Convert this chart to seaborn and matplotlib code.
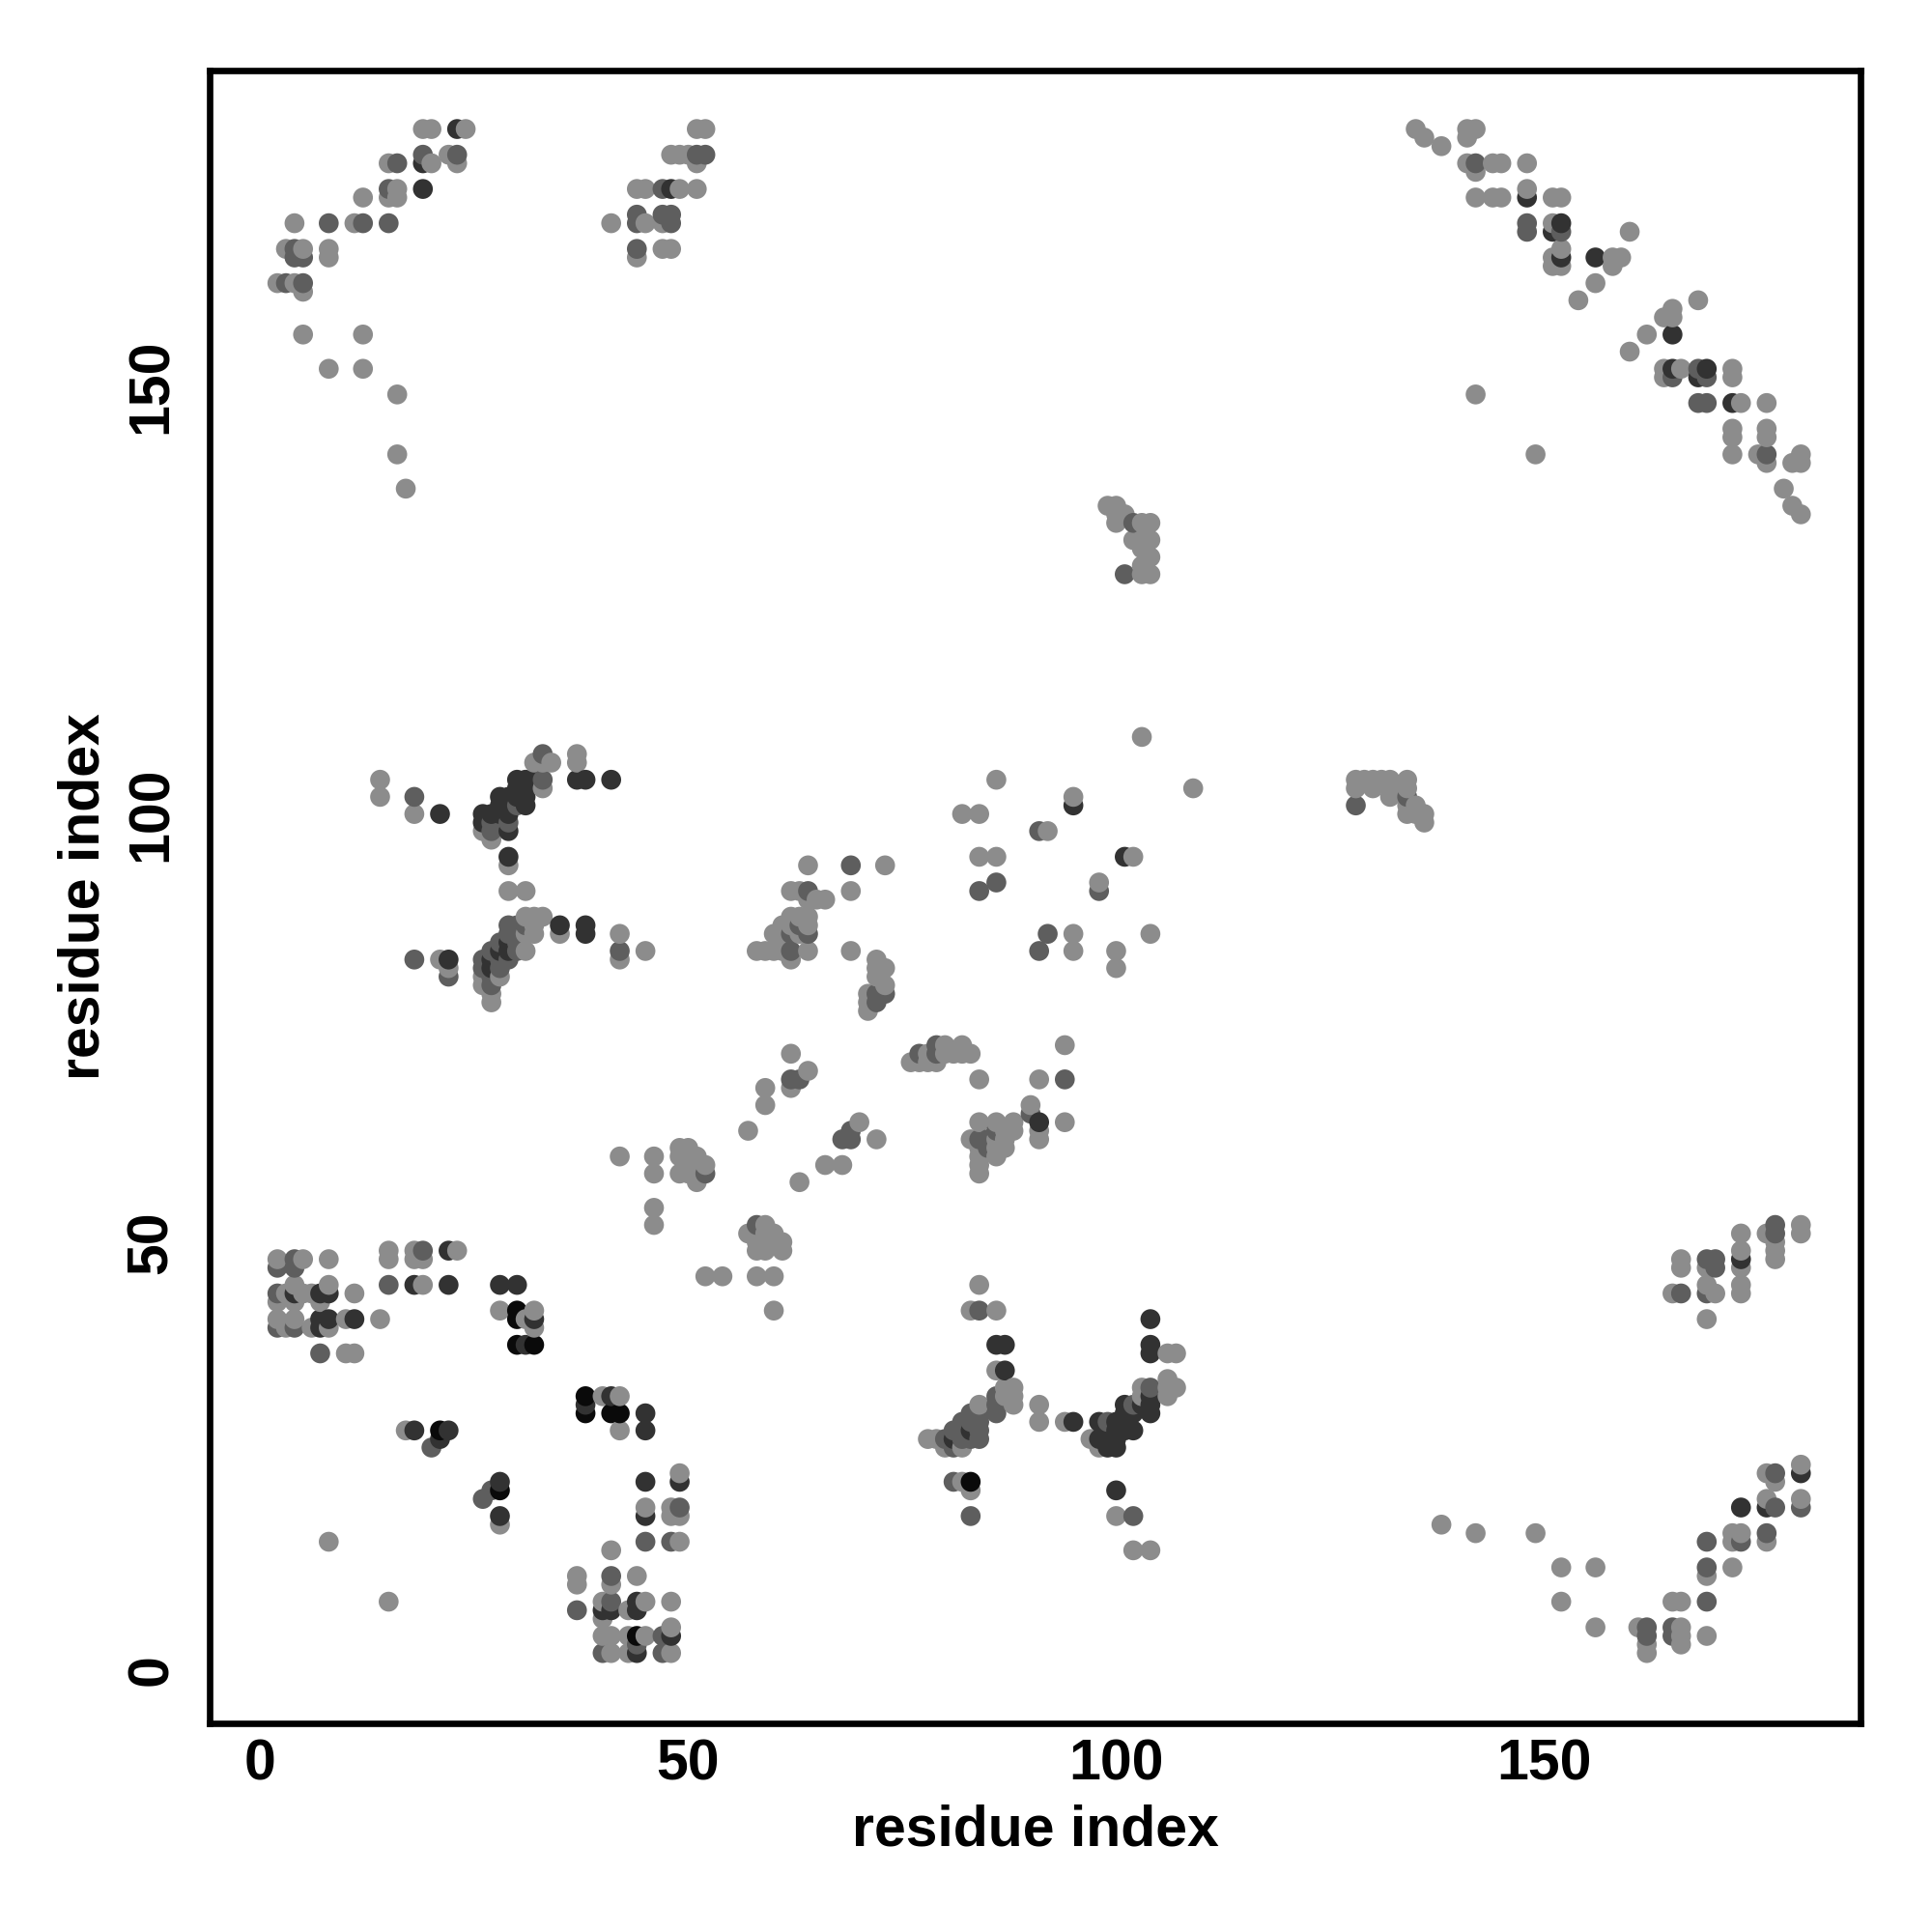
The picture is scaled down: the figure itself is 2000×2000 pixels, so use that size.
import numpy as np
import pandas as pd
import matplotlib
matplotlib.use("Agg")
import matplotlib.pyplot as plt
import seaborn as sns

# contacts: (residue i, residue j, shade level 1 = light grey ... 4 = black)
top_left = [
    (19, 180, 1), (20, 180, 1), (23, 180, 3), (24, 180, 1), (51, 180, 1), (52, 180, 1),
    (19, 177, 2), (19, 176, 3), (20, 176, 1), (15, 176, 1), (16, 176, 2), (22, 177, 1),
    (23, 177, 2), (23, 176, 1), (48, 177, 1), (49, 177, 1), (50, 177, 1), (51, 177, 2),
    (52, 177, 2), (51, 176, 1), (15, 173, 2), (16, 173, 1), (15, 172, 1), (16, 172, 1),
    (12, 172, 1), (19, 173, 3), (44, 173, 1), (45, 173, 1), (47, 173, 2), (48, 173, 3),
    (49, 173, 1), (51, 173, 1), (4, 169, 1), (8, 169, 2), (11, 169, 1), (12, 169, 2),
    (15, 169, 2), (41, 169, 1), (44, 170, 2), (44, 169, 2), (45, 169, 1), (47, 170, 2),
    (48, 170, 2), (47, 169, 1), (48, 169, 2), (3, 166, 1), (4, 166, 2), (5, 166, 1),
    (4, 165, 2), (5, 165, 2), (8, 166, 1), (8, 165, 1), (44, 166, 2), (44, 165, 1),
    (47, 166, 1), (48, 166, 1), (2, 162, 1), (3, 162, 2), (4, 162, 1), (5, 162, 2),
    (5, 161, 1), (5, 156, 1), (12, 156, 1), (8, 152, 1), (12, 152, 1), (16, 149, 1),
    (16, 142, 1), (17, 138, 1),
]

top_right = [
    (135, 180, 1), (136, 179, 1), (138, 178, 1), (141, 180, 1), (142, 180, 1), (141, 179, 1),
    (141, 176, 1), (142, 176, 2), (144, 176, 1), (145, 176, 1), (148, 176, 1), (142, 175, 1),
    (142, 172, 1), (144, 172, 1), (145, 172, 1), (148, 172, 3), (148, 173, 1), (151, 172, 1),
    (152, 172, 1), (148, 169, 2), (148, 168, 2), (151, 169, 1), (152, 169, 3), (151, 168, 3),
    (152, 168, 2), (160, 168, 1), (152, 166, 1), (151, 165, 1), (152, 165, 3), (151, 164, 1),
    (152, 164, 1), (156, 165, 3), (158, 165, 1), (159, 165, 1), (158, 164, 1), (156, 162, 1),
    (154, 160, 1), (168, 160, 1), (165, 159, 1), (164, 158, 1), (165, 158, 1), (162, 156, 1),
    (165, 156, 3), (160, 154, 1), (164, 152, 1), (165, 152, 3), (166, 152, 1), (164, 151, 1),
    (165, 151, 2), (168, 152, 2), (169, 152, 3), (168, 151, 3), (169, 151, 2), (172, 152, 1),
    (172, 151, 1), (168, 148, 2), (169, 148, 2), (172, 148, 3), (173, 148, 1), (176, 148, 1),
    (142, 149, 1), (172, 145, 1), (172, 144, 1), (176, 145, 1), (176, 144, 1), (149, 142, 1),
    (172, 142, 1), (175, 142, 1), (176, 142, 2), (176, 141, 1), (179, 141, 1), (180, 142, 1),
    (180, 141, 1), (178, 138, 1), (179, 136, 1), (180, 135, 1),
]

upper_mid = [
    (99, 136, 1), (100, 136, 1), (100, 135, 1), (101, 135, 1), (100, 134, 1), (102, 134, 2),
    (103, 134, 1), (104, 134, 1), (102, 132, 1), (103, 132, 1), (104, 132, 1), (103, 131, 1),
    (104, 130, 1), (103, 129, 1), (101, 128, 2), (103, 128, 1), (104, 128, 1),
]

left_mid = [
    (14, 104, 1), (14, 102, 1), (18, 102, 2), (18, 100, 1), (21, 100, 3),
    (33, 107, 2), (32, 106, 1), (33, 106, 1), (34, 106, 1), (37, 107, 1), (37, 106, 1),
    (37, 104, 3), (38, 104, 3), (41, 104, 3),
    (30, 104, 3), (31, 104, 3), (32, 104, 3), (33, 104, 2),
    (30, 103, 3), (31, 103, 3), (33, 103, 1),
    (28, 102, 3), (29, 102, 3), (30, 102, 3), (31, 102, 3),
    (28, 101, 3), (30, 101, 2), (31, 101, 3),
    (26, 100, 3), (27, 100, 3), (28, 100, 3), (29, 100, 3),
    (26, 99, 3), (27, 99, 2), (29, 99, 2),
    (26, 98, 1), (27, 98, 2), (29, 98, 3), (27, 97, 1),
    (29, 95, 3), (29, 94, 1), (29, 91, 1), (31, 91, 1),
    (31, 88, 1), (32, 88, 1), (33, 88, 1), (35, 87, 3), (35, 86, 1), (38, 87, 3), (38, 86, 3),
    (29, 87, 2), (30, 87, 2), (31, 87, 2), (32, 87, 1),
    (29, 86, 2), (30, 86, 2), (31, 86, 1), (32, 86, 1),
    (28, 85, 2), (29, 85, 3), (30, 85, 2),
    (27, 84, 2), (28, 84, 3), (29, 84, 3), (30, 84, 2), (31, 84, 1),
    (26, 83, 2), (27, 83, 3), (28, 83, 2), (29, 83, 2),
    (26, 82, 2), (27, 82, 3), (28, 82, 2),
    (26, 81, 1), (27, 81, 2), (28, 81, 1),
    (26, 80, 1), (27, 80, 2), (27, 79, 1), (27, 78, 1),
    (18, 83, 2), (21, 83, 1), (22, 83, 3), (22, 82, 1), (22, 81, 2),
    (42, 86, 1), (42, 84, 2), (42, 83, 1), (45, 84, 1),
]

center_left = [
    (64, 94, 1), (69, 94, 2), (73, 94, 1),
    (62, 91, 1), (63, 91, 1), (64, 91, 2), (69, 91, 1), (64, 90, 1), (65, 90, 1), (66, 90, 1),
    (62, 88, 1), (63, 88, 1), (64, 88, 1),
    (61, 87, 1), (62, 87, 1), (63, 87, 2), (64, 87, 1),
    (60, 86, 1), (61, 86, 1), (62, 86, 2), (63, 86, 1), (64, 86, 2),
    (58, 84, 1), (59, 84, 1), (60, 84, 1), (61, 84, 1), (62, 84, 2), (64, 84, 1), (69, 84, 1),
    (62, 83, 1),
    (72, 83, 1), (73, 82, 1), (72, 82, 1), (72, 81, 1), (73, 80, 1), (72, 79, 2), (73, 79, 2),
    (71, 79, 1), (71, 78, 1), (72, 78, 2), (71, 77, 1),
    (62, 72, 1), (64, 70, 1), (62, 69, 2), (63, 69, 2), (62, 68, 1), (59, 68, 1), (59, 66, 1),
    (57, 63, 1), (70, 64, 1), (69, 63, 2), (68, 62, 2), (69, 62, 2), (72, 62, 1), (66, 59, 1),
    (68, 59, 1), (63, 57, 1),
    (42, 60, 1), (46, 60, 1), (46, 58, 1),
    (49, 61, 1), (50, 61, 1), (49, 60, 1), (50, 60, 1), (51, 60, 1), (52, 59, 1), (49, 58, 1),
    (50, 58, 1), (51, 58, 1), (52, 58, 2), (51, 57, 1),
    (46, 54, 1), (46, 52, 1),
    (58, 52, 2), (59, 52, 1), (57, 51, 1), (58, 51, 1), (59, 51, 1), (60, 51, 1), (58, 50, 1),
    (59, 50, 1), (60, 50, 1), (61, 50, 1), (58, 49, 1), (59, 49, 1), (61, 49, 1),
    (52, 46, 1), (54, 46, 1), (58, 46, 1), (60, 46, 1), (60, 42, 1),
]

center_right = [
    (103, 109, 1), (109, 103, 1), (86, 104, 1), (82, 100, 1), (84, 100, 1), (95, 102, 1),
    (95, 101, 3), (91, 98, 2), (92, 98, 1), (84, 95, 1), (86, 95, 1), (101, 95, 3), (102, 95, 1),
    (86, 92, 2), (84, 91, 2), (98, 92, 1), (98, 91, 2), (92, 86, 2), (91, 84, 2), (95, 86, 1),
    (95, 84, 1), (100, 84, 1), (100, 82, 1), (104, 86, 1),
    (94, 73, 1), (84, 69, 1), (91, 69, 1), (94, 69, 2),
    (79, 73, 2), (80, 73, 1), (82, 73, 1),
    (77, 72, 2), (78, 72, 1), (79, 72, 2), (80, 72, 1), (81, 72, 1), (82, 72, 1), (83, 72, 1),
    (76, 71, 1), (77, 71, 1), (78, 71, 1), (79, 71, 1),
    (84, 64, 1), (86, 64, 1), (88, 64, 1),
    (86, 63, 2), (87, 63, 1), (88, 63, 1), (83, 62, 1), (84, 62, 2), (85, 62, 2), (86, 62, 1),
    (87, 62, 1), (84, 61, 1), (85, 61, 2), (86, 61, 1), (87, 61, 1), (84, 60, 1), (86, 60, 1),
    (84, 59, 1), (84, 58, 1),
    (90, 66, 1), (90, 65, 2), (91, 64, 3), (91, 63, 1), (91, 62, 1), (94, 64, 1),
]

right_mid = [
    (128, 104, 1), (129, 104, 1), (130, 104, 1), (131, 104, 1), (132, 104, 1), (134, 104, 1),
    (128, 103, 1), (130, 103, 1), (132, 103, 1), (134, 103, 1),
    (132, 102, 1), (134, 102, 2), (128, 101, 2), (134, 101, 1), (135, 101, 1),
    (134, 100, 1), (135, 100, 1), (136, 100, 1), (136, 99, 1),
]

bottom_left = [
    (2, 48, 1), (4, 48, 2), (5, 48, 1), (8, 48, 1), (2, 47, 2), (4, 47, 2),
    (15, 49, 1), (15, 48, 1), (18, 49, 1), (19, 49, 2), (18, 48, 1), (19, 48, 1), (22, 49, 3),
    (23, 49, 1), (15, 45, 2), (18, 45, 3), (19, 45, 1), (22, 45, 3), (28, 45, 3), (30, 45, 3),
    (2, 44, 2), (3, 44, 1), (4, 44, 3), (5, 44, 1), (6, 44, 1), (7, 44, 3), (8, 44, 3),
    (11, 44, 1), (2, 43, 1), (4, 43, 1), (7, 43, 1), (4, 45, 1), (8, 45, 1),
    (2, 41, 1), (4, 41, 1), (7, 41, 3), (8, 41, 3), (10, 41, 1), (11, 41, 3), (14, 41, 1),
    (2, 40, 2), (3, 40, 1), (4, 40, 2), (6, 40, 1), (7, 40, 3), (8, 40, 1),
    (7, 37, 2), (10, 37, 1), (11, 37, 1),
    (28, 42, 1), (30, 42, 4), (32, 42, 1), (30, 41, 4), (31, 41, 1), (32, 41, 3), (32, 40, 1),
    (30, 38, 4), (31, 38, 3), (32, 38, 4),
    (17, 28, 1), (18, 28, 3), (21, 28, 4), (22, 28, 3), (21, 27, 3), (20, 26, 2),
    (28, 22, 3), (28, 21, 4), (27, 21, 2), (26, 20, 2), (28, 18, 3), (28, 17, 1),
    (8, 15, 1), (15, 8, 1),
]

bottom_inner = [
    (38, 32, 4), (38, 31, 3), (38, 30, 4), (40, 32, 1), (41, 32, 3), (42, 32, 1), (41, 30, 4),
    (42, 30, 4), (42, 28, 1), (45, 30, 3), (45, 28, 3),
    (45, 22, 3), (49, 23, 1), (49, 22, 3), (45, 19, 1), (45, 18, 3), (48, 19, 1), (49, 19, 2),
    (48, 18, 1), (49, 18, 1), (45, 15, 2), (48, 15, 2), (49, 15, 1), (41, 14, 1),
    (37, 11, 1), (37, 10, 1), (41, 11, 2), (41, 10, 1), (44, 11, 1), (37, 7, 2),
    (40, 8, 1), (41, 8, 2), (44, 8, 3), (45, 8, 1), (48, 8, 1),
    (40, 7, 3), (41, 7, 3), (43, 7, 1), (44, 7, 3), (40, 6, 1), (48, 5, 1),
    (40, 4, 1), (41, 4, 1), (43, 4, 1), (44, 4, 4), (45, 4, 1), (47, 4, 2), (48, 4, 3),
    (44, 3, 2), (40, 2, 2), (41, 2, 1), (43, 2, 1), (44, 2, 3), (47, 2, 2), (48, 2, 1),
]

bottom_mid = [
    (84, 45, 1), (83, 42, 1), (84, 42, 2), (86, 42, 1), (86, 38, 3), (87, 38, 3), (86, 35, 1),
    (87, 35, 3), (88, 33, 1), (88, 32, 1), (88, 31, 1), (87, 33, 1), (86, 32, 2), (87, 32, 1),
    (86, 31, 2), (86, 30, 2),
    (84, 31, 1), (83, 30, 2), (84, 30, 2), (82, 29, 2), (83, 29, 2), (84, 29, 2), (81, 28, 2),
    (82, 28, 2), (83, 28, 3), (84, 28, 2), (78, 27, 1), (79, 27, 1), (80, 27, 2), (81, 27, 3),
    (82, 27, 2), (83, 27, 2), (84, 27, 2), (80, 26, 1), (81, 26, 2), (82, 26, 1),
    (91, 31, 1), (91, 29, 1), (94, 29, 1), (95, 29, 3),
    (98, 29, 3), (99, 29, 2), (100, 29, 3), (101, 29, 3), (97, 27, 1), (98, 27, 3), (99, 27, 3),
    (100, 27, 3), (98, 26, 1), (99, 26, 3), (100, 26, 3), (100, 28, 3), (101, 28, 3),
    (102, 28, 3), (101, 31, 3), (102, 31, 2), (101, 30, 3), (102, 30, 3),
    (103, 32, 1), (103, 31, 3), (104, 33, 2), (104, 32, 3), (104, 31, 3), (104, 30, 3),
    (103, 33, 1), (106, 34, 1), (107, 33, 1), (106, 32, 1), (106, 33, 1),
    (104, 41, 3), (104, 38, 3), (104, 37, 3), (106, 37, 1), (107, 37, 1),
    (81, 22, 2), (82, 22, 1), (83, 22, 4), (83, 21, 1), (83, 18, 2), (100, 21, 3), (100, 18, 1),
    (102, 18, 2), (102, 14, 1), (104, 14, 1),
]

bottom_right = [
    (180, 52, 1), (180, 51, 1), (177, 52, 2), (176, 51, 1), (177, 51, 2), (177, 50, 1),
    (177, 49, 1), (177, 48, 1), (173, 51, 1), (173, 49, 1), (173, 48, 3), (173, 47, 1),
    (173, 45, 1), (173, 44, 1), (169, 48, 2), (170, 48, 2), (169, 47, 1), (170, 47, 2),
    (166, 48, 1), (166, 47, 1), (165, 44, 1), (166, 44, 2), (169, 45, 1), (169, 44, 2),
    (170, 44, 1), (169, 41, 1),
    (138, 17, 1), (142, 16, 1), (149, 16, 1), (152, 12, 1), (156, 12, 1), (152, 8, 1),
    (156, 5, 1), (161, 5, 1), (162, 5, 2), (162, 4, 2), (162, 3, 1), (162, 2, 1),
    (165, 8, 1), (166, 8, 1), (165, 5, 2), (166, 5, 1), (165, 4, 2), (166, 4, 1), (166, 3, 1),
    (169, 8, 2), (169, 4, 1), (169, 12, 2), (169, 11, 1), (169, 15, 2), (172, 12, 1),
    (172, 16, 1), (173, 16, 1), (172, 15, 1), (173, 15, 2), (173, 19, 3), (176, 20, 1),
    (176, 19, 3), (177, 19, 2), (176, 16, 2), (176, 15, 1), (176, 23, 1), (177, 23, 2),
    (177, 22, 1), (180, 24, 1), (180, 23, 3), (180, 20, 1), (180, 19, 2),
]

shade_colors = {1: "#8c8c8c", 2: "#5e5e5e", 3: "#323232", 4: "#0a0a0a"}
ticks = [0, 50, 100, 150]
axis_title = "residue index"

regions = [top_left, top_right, upper_mid, left_mid, center_left, center_right,
           right_mid, bottom_left, bottom_inner, bottom_mid, bottom_right]
df = pd.DataFrame([c for reg in regions for c in reg], columns=["i", "j", "level"])
# points are drawn in residue order, later ones cover earlier ones
df = df.sort_values(["i", "j"]).reset_index(drop=True)

sns.set_style("white")
plt.rcParams["font.family"] = ["Liberation Sans", "DejaVu Sans"]
plt.rcParams["font.weight"] = "bold"
plt.rcParams["text.color"] = "black"
plt.rcParams["axes.labelcolor"] = "black"
plt.rcParams["xtick.color"] = "black"
plt.rcParams["ytick.color"] = "black"

fig = plt.figure(figsize=(20, 20), dpi=100)
ax = fig.add_axes([0.1084, 0.108, 0.8547, 0.8557])

sns.scatterplot(data=df, x="i", y="j", hue="level", palette=shade_colors, s=220,
                linewidth=0, edgecolor="none", legend=False, ax=ax)

ax.set_xlim(-5.94, 186.99)
ax.set_ylim(-6.21, 186.88)

for side in ["left", "right", "top", "bottom"]:
    ax.spines[side].set_visible(True)
    ax.spines[side].set_linewidth(4.8)
    ax.spines[side].set_color("black")

ax.set_xticks(ticks)
ax.set_yticks(ticks)
ax.set_xticklabels([str(t) for t in ticks], fontsize=42.5, fontweight="bold", color="black")
ax.set_yticklabels([str(t) for t in ticks], fontsize=42.5, fontweight="bold", color="black",
                   rotation=90, va="center")
ax.tick_params(axis="both", direction="out", length=6, width=2, color="black")
ax.tick_params(axis="x", pad=5)
ax.tick_params(axis="y", pad=17)

ax.set_xlabel(axis_title, fontsize=42.5, fontweight="bold", color="black")
ax.set_ylabel(axis_title, fontsize=42.5, fontweight="bold", color="black")
ax.xaxis.set_label_coords(0.5, -0.0742)
ax.xaxis.label.set_va("baseline")
ax.yaxis.set_label_coords(-0.0671, 0.5)
ax.yaxis.label.set_rotation_mode("anchor")
ax.yaxis.label.set_va("baseline")
ax.yaxis.label.set_ha("center")

fig.savefig("out.png", dpi=100, facecolor="white")
